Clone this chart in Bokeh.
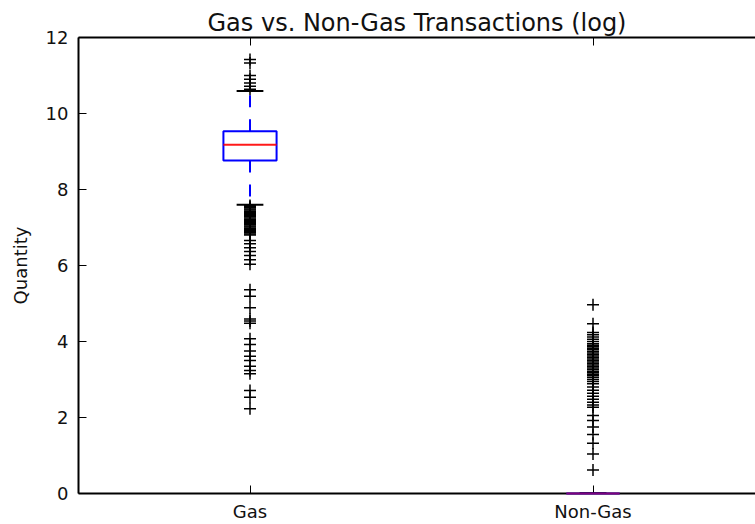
from bokeh.plotting import figure
from bokeh.models import FixedTicker, LinearAxis, Range1d, ColumnDataSource
from bokeh.embed import file_html
from bokeh.resources import INLINE

# ---- data ----
categories = ["Gas", "Non-Gas"]
positions = [1, 2]
q1 = [8.76, 0.0]
median = [9.18, 0.0]
q3 = [9.53, 0.0]
whisker_low = [7.60, 0.0]
whisker_high = [10.59, 0.0]

gas_outliers = [11.42, 11.33, 11.00, 10.90, 10.80, 10.72, 10.64,
                7.58, 7.55, 7.52, 7.49, 7.46, 7.43, 7.40, 7.37, 7.34, 7.31,
                7.28, 7.25, 7.22, 7.19, 7.16, 7.13, 7.10, 7.07, 7.04, 7.01,
                6.98, 6.95, 6.92, 6.89, 6.86, 6.83, 6.80,
                6.66, 6.57, 6.47, 6.37, 6.26, 6.15, 6.03,
                5.36, 5.19, 4.89, 4.59, 4.54, 4.48, 4.07, 3.92, 3.75, 3.61,
                3.50, 3.35, 3.24, 3.15, 2.71, 2.53, 2.23]
nongas_outliers = [4.97, 4.47, 4.24, 4.18, 4.12, 4.06, 4.00, 3.94, 3.90, 3.86,
                   3.82, 3.78, 3.74, 3.70, 3.66, 3.62, 3.58, 3.54, 3.50, 3.46,
                   3.42, 3.38, 3.34, 3.30, 3.26, 3.22, 3.18, 3.14, 3.10, 3.05,
                   3.00, 2.95, 2.89, 2.80, 2.72, 2.64, 2.56, 2.48, 2.40, 2.33,
                   2.27, 2.05, 1.92, 1.75, 1.55, 1.32, 1.04, 0.62]
y_ticks = [0, 2, 4, 6, 8, 10, 12]

FONT = "DejaVu Sans"
box_half = 0.0775
cap_half = 0.039

p = figure(frame_width=677, frame_height=456,
           x_range=Range1d(0.5, 0.5 + 677 / 343), y_range=Range1d(0, 12),
           output_backend="svg", toolbar_location=None,
           min_border_left=78, min_border_right=0,
           min_border_top=37, min_border_bottom=31,
           title="Gas vs. Non-Gas Transactions (log)")
p.outline_line_color = None
p.grid.visible = False
p.background_fill_color = "white"
p.border_fill_color = "white"

p.title.text_font = FONT
p.title.text_font_size = "24px"
p.title.text_font_style = "normal"
p.title.align = "center"
p.title.text_color = "#111111"
p.title.standoff = 2

for ax in (p.xaxis[0], p.yaxis[0]):
    ax.major_tick_in = 8
    ax.major_tick_out = 0
    ax.minor_tick_in = 0
    ax.minor_tick_out = 0
    ax.axis_line_width = 2
    ax.axis_line_color = "black"
    ax.major_tick_line_color = "black"
    ax.major_label_text_font = FONT
    ax.major_label_text_font_size = "18px"
    ax.major_label_text_color = "#111111"

p.xaxis.ticker = FixedTicker(ticks=positions)
p.xaxis.major_label_overrides = {pos: cat for pos, cat in zip(positions, categories)}
p.xaxis.major_label_standoff = 7
p.yaxis.ticker = FixedTicker(ticks=y_ticks)
p.yaxis.major_label_standoff = 10
p.yaxis.axis_label = "Quantity"
p.yaxis.axis_label_text_font = FONT
p.yaxis.axis_label_text_font_size = "18px"
p.yaxis.axis_label_text_font_style = "normal"
p.yaxis.axis_label_text_color = "#111111"
p.yaxis.axis_label_standoff = 12

top = LinearAxis(ticker=FixedTicker(ticks=positions),
                 major_label_overrides={1: "", 2: ""},
                 major_label_text_font_size="0px",
                 major_label_standoff=0,
                 major_tick_in=8, major_tick_out=0,
                 minor_tick_in=0, minor_tick_out=0,
                 axis_line_width=2, axis_line_color="black")
p.add_layout(top, "above")

# boxes
src = ColumnDataSource(dict(
    x=positions,
    left=[x - box_half for x in positions],
    right=[x + box_half for x in positions],
    q1=q1, q3=q3, med=median, lo=whisker_low, hi=whisker_high,
    capl=[x - cap_half for x in positions],
    capr=[x + cap_half for x in positions],
    med_alpha=[0.9, 0.5],
))

p.segment(x0="x", y0="q3", x1="x", y1="hi", source=src, line_color="blue",
          line_width=2, line_dash="12 12")
p.segment(x0="x", y0="q1", x1="x", y1="lo", source=src, line_color="blue",
          line_width=2, line_dash="12 12")
p.segment(x0="capl", y0="hi", x1="capr", y1="hi", source=src, line_color="black", line_width=2)
p.segment(x0="capl", y0="lo", x1="capr", y1="lo", source=src, line_color="black", line_width=2)
p.quad(left="left", right="right", bottom="q1", top="q3", source=src,
       fill_color=None, line_color="blue", line_width=2, level="overlay")
p.segment(x0="left", y0="med", x1="right", y1="med", source=src,
          line_color="red", line_width=2, line_alpha="med_alpha", level="overlay")

p.scatter([positions[0]] * len(gas_outliers), gas_outliers, marker="cross",
          size=12, line_color="black", line_width=1.5)
p.scatter([positions[1]] * len(nongas_outliers), nongas_outliers, marker="cross",
          size=12, line_color="black", line_width=1.5)

open("out.html", "w").write(file_html(p, INLINE))
